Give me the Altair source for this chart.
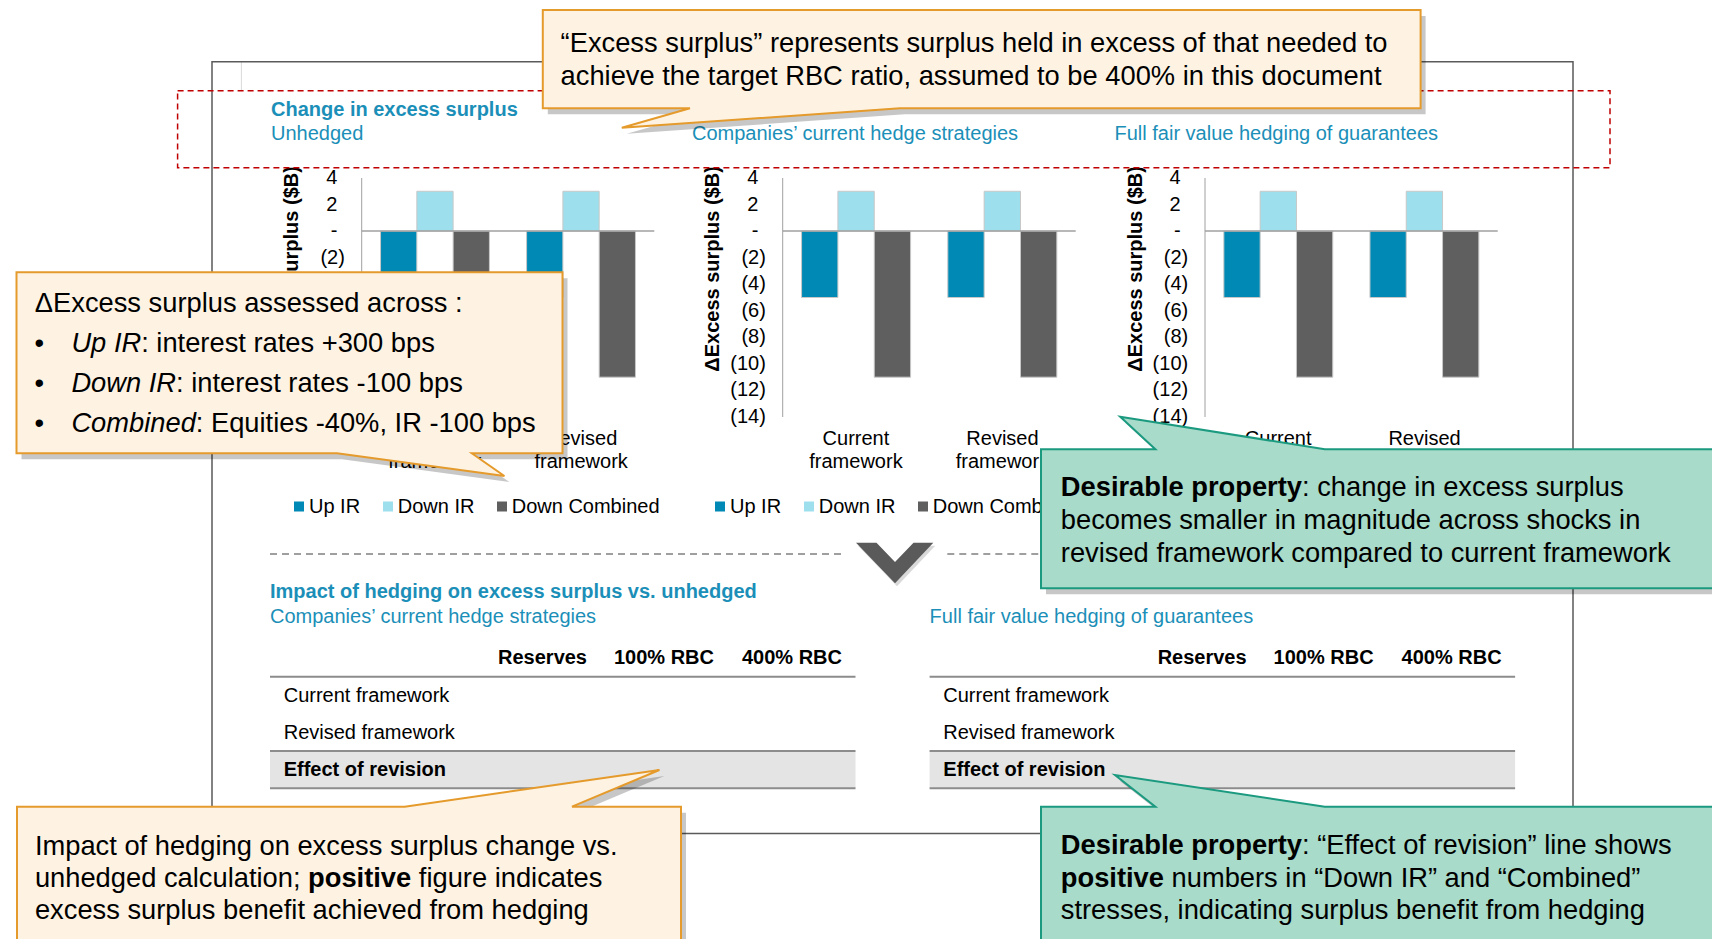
import altair as alt
import pandas as pd

OFF = 8
W, H = 1704, 931
FONT = "Liberation Sans"
TEAL = "#1b8fb8"

# ---------------- data ----------------
frameworks = ["Current framework", "Revised framework"]
fw_line1 = ["Current", "Revised"]
fw_line2 = ["framework", "framework"]
series = ["Up IR", "Down IR", "Down Combined"]
series_colors = ["#0089b5", "#9ddfec", "#5f5f5f"]

panel_names = ["Unhedged", "Companies’ current hedge strategies", "Full fair value hedging of guarantees"]
# change in excess surplus ($B): Up IR, Down IR, Down Combined
unhedged_current = [-5.0, 3.0, -11.0]
unhedged_revised = [-5.0, 3.0, -11.0]
company_current = [-5.0, 3.0, -11.0]
company_revised = [-5.0, 3.0, -11.0]
fullfv_current = [-5.0, 3.0, -11.0]
fullfv_revised = [-5.0, 3.0, -11.0]

tick_values = [4, 2, 0, -2, -4, -6, -8, -10, -12, -14]
tick_labels = ["4", "2", "-", "(2)", "(4)", "(6)", "(8)", "(10)", "(12)", "(14)"]
y_domain = [-14, 4]
y_title = "ΔExcess surplus ($B)"

table_columns = ["Reserves", "100% RBC", "400% RBC"]
table_rows = ["Current framework", "Revised framework", "Effect of revision"]
table_titles = ["Companies’ current hedge strategies", "Full fair value hedging of guarantees"]

# ---------------- helpers ----------------
_R = {" ": 278, ":": 278, ";": 278, ",": 278, ".": 278, "“": 333, "”": 333, "(": 333, ")": 333,
      "+": 584, "-": 333, "%": 889, "$": 556}
_B = {" ": 278, ":": 333, ";": 333, ",": 278, ".": 278, "(": 333, ")": 333, "%": 889, "$": 556}
for c in "0123456789":
    _R[c] = 556
    _B[c] = 556
for tok in ("A667 B667 C722 D722 E667 F611 G778 H722 I278 J500 K667 L556 M833 N722 O778 P667 Q778 R722 "
            "S667 T611 U722 V667 W944 X667 Y667 Z611 a556 b556 c500 d556 e556 f278 g556 h556 i222 j222 "
            "k500 l222 m833 n556 o556 p556 q556 r333 s500 t278 u556 v500 w722 x500 y500 z500").split():
    _R[tok[0]] = int(tok[1:])
for tok in ("A722 B722 C722 D722 E667 F611 G778 H722 I278 J556 K722 L611 M833 N722 O778 P667 Q778 R722 "
            "S667 T611 U722 V667 W944 X667 Y667 Z611 a556 b611 c556 d611 e556 f333 g611 h611 i278 j278 "
            "k556 l278 m889 n611 o611 p611 q611 r389 s556 t333 u611 v556 w778 x556 y556 z500").split():
    _B[tok[0]] = int(tok[1:])


def tw(s, bold=False, size=27.3):
    t = _B if bold else _R
    return sum(t.get(c, 556) for c in s) * size / 1000.0


def P(v):
    return v - OFF


base = pd.DataFrame({"k": [0]})
layers = []


def text(x, y, s, size=20, weight="normal", style="normal", color="#000000", align="left",
         baseline="middle", angle=0):
    # leading blanks are collapsed by SVG, so turn them into an x shift
    stripped = s.lstrip(" ")
    if align == "left" and len(stripped) < len(s):
        x += (len(s) - len(stripped)) * 278 * size / 1000.0
        s = stripped
    m = alt.Chart(base).mark_text(text=s, font=FONT, fontSize=size, fontWeight=weight, fontStyle=style,
                                  color=color, align=align, baseline=baseline, angle=angle)
    layers.append(m.encode(x=alt.value(P(x)), y=alt.value(P(y))))


def rect(x0, y0, x1, y1, fill="white", fill_opacity=1, stroke="white", sw=0, dash=None):
    kw = dict(fill=fill, fillOpacity=fill_opacity, stroke=stroke, strokeWidth=sw)
    if dash:
        kw["strokeDash"] = dash
    layers.append(alt.Chart(base).mark_rect(**kw).encode(
        x=alt.value(P(x0)), x2=alt.value(P(x1)), y=alt.value(P(y0)), y2=alt.value(P(y1))))


def rule(x0, y0, x1, y1, color="#808080", sw=1, dash=None):
    kw = dict(color=color, strokeWidth=sw)
    if dash:
        kw["strokeDash"] = dash
    layers.append(alt.Chart(base).mark_rule(**kw).encode(
        x=alt.value(P(x0)), x2=alt.value(P(x1)), y=alt.value(P(y0)), y2=alt.value(P(y1))))


def shape(points, fill, stroke=None, sw=0, opacity=1, dx=0, dy=0):
    d = "M" + " L".join(f"{P(x) + dx:.1f},{P(y) + dy:.1f}" for x, y in points) + " Z"
    kw = dict(shape=d, size=4, filled=True, fill=fill, opacity=opacity)
    if stroke:
        kw.update(stroke=stroke, strokeWidth=sw)
    else:
        kw.update(strokeOpacity=0)
    layers.append(alt.Chart(base).mark_point(**kw).encode(x=alt.value(0), y=alt.value(0)))


color_scale = alt.Scale(domain=series, range=series_colors)

axis_x = [361.7, 782.7, 1205.0]
plot_right = [654.3, 1075.7, 1497.7]
title_x = [271, 692, 1114.5]
Y_TOP, Y_BOT = 178.0, 417.0

# ---------------- background / frame ----------------
rule(241.4, 62, 241.4, 90, color="#d9d9d9", sw=1)
for ax in axis_x:
    text(ax - 69.5, 371.7, y_title, size=20, weight="bold", angle=270)
rect(177.6, 90.7, 1610, 167.7, fill="white")
rect(212, 61.7, 1573, 833.5, fill="white", fill_opacity=0, stroke="#5a5a5a", sw=1.5)
rect(177.6, 90.7, 1610, 167.7, fill="white", fill_opacity=0, stroke="#c00000", sw=1.5, dash=[6, 4])

text(271, 110, "Change in excess surplus", size=20, weight="bold", color=TEAL)
for i in range(3):
    text(title_x[i], 134, panel_names[i], size=20, color=TEAL)

# ---------------- bar panels ----------------
panels = [(unhedged_current, unhedged_revised), (company_current, company_revised),
          (fullfv_current, fullfv_revised)]
for i, (cur, rev) in enumerate(panels):
    ax, pr = axis_x[i], plot_right[i]
    xs = alt.Scale(domain=frameworks, range=[P(ax), P(pr)], paddingInner=0.2545, paddingOuter=0.129)
    ys = alt.Scale(domain=y_domain, range=[P(Y_BOT), P(Y_TOP)], nice=False, zero=False)
    df = pd.DataFrame({"framework": [frameworks[0]] * 3 + [frameworks[1]] * 3,
                       "series": series * 2, "value": cur + rev})
    layers.append(alt.Chart(df).mark_bar(stroke="#c8c8c8", strokeWidth=1).encode(
        x=alt.X("framework:N", scale=xs, axis=None),
        xOffset=alt.XOffset("series:N", scale=alt.Scale(domain=series, paddingInner=0, paddingOuter=0)),
        y=alt.Y("value:Q", scale=ys, axis=None, stack=None),
        y2=alt.datum(0),
        color=alt.Color("series:N", scale=color_scale, legend=None),
    ))
    # zero line and axis line
    layers.append(alt.Chart(base).mark_rule(color="#a0a0a0", strokeWidth=1.5).encode(
        x=alt.value(P(ax)), x2=alt.value(P(pr)), y=alt.YDatum(0, scale=ys, axis=None)))
    rule(ax, Y_TOP, ax, Y_BOT, color="#a0a0a0", sw=1)
    # tick labels
    tk = pd.DataFrame({"v": tick_values, "lab": tick_labels})
    layers.append(alt.Chart(tk[tk.v >= 0]).mark_text(align="right", baseline="middle", font=FONT,
                                                     fontSize=20, color="#000000").encode(
        x=alt.value(P(ax - 24.3)), y=alt.Y("v:Q", scale=ys, axis=None), text="lab:N"))
    layers.append(alt.Chart(tk[tk.v < 0]).mark_text(align="right", baseline="middle", font=FONT,
                                                    fontSize=20, color="#000000").encode(
        x=alt.value(P(ax - 16.8)), y=alt.Y("v:Q", scale=ys, axis=None), text="lab:N"))
    # category labels
    lab = pd.DataFrame({"framework": frameworks, "l1": fw_line1, "l2": fw_line2})
    layers.append(alt.Chart(lab).mark_text(align="center", baseline="middle", font=FONT, fontSize=20,
                                           color="#000000").encode(
        x=alt.X("framework:N", scale=xs, axis=None), y=alt.value(P(439.3)), text="l1:N"))
    layers.append(alt.Chart(lab).mark_text(align="center", baseline="middle", font=FONT, fontSize=20,
                                           color="#000000").encode(
        x=alt.X("framework:N", scale=xs, axis=None), y=alt.value(P(461.7)), text="l2:N"))
    # legend
    leg = pd.DataFrame({"series": series,
                        "sx": [P(ax - 62.7), P(ax + 26.3), P(ax + 140.3)],
                        "tx": [P(ax - 52.7), P(ax + 36.0), P(ax + 150.0)]})
    layers.append(alt.Chart(leg).mark_square(size=100, opacity=1).encode(
        x=alt.X("sx:Q", scale=None, axis=None), y=alt.value(P(506.5)),
        color=alt.Color("series:N", scale=color_scale, legend=None)))
    layers.append(alt.Chart(leg).mark_text(align="left", baseline="middle", font=FONT, fontSize=20,
                                           color="#000000").encode(
        x=alt.X("tx:Q", scale=None, axis=None), y=alt.value(P(506.5)), text="series:N"))

# ---------------- separator ----------------
rule(270, 554, 841, 554, color="#808080", sw=1.5, dash=[7, 5])
rule(947.3, 554, 1516, 554, color="#808080", sw=1.5, dash=[7, 5])
chev = [(856, 542.7), (876.5, 542.7), (895, 562), (913.5, 542.7), (933.3, 542.7), (895, 583.3)]
shape(chev, "#000000", opacity=0.15, dx=2, dy=3)
shape(chev, "#5a5a5a")

# ---------------- tables ----------------
text(270, 591.7, "Impact of hedging on excess surplus vs. unhedged", size=20, weight="bold", color=TEAL)
col_right = [587, 714, 842]
for t, dx in enumerate([0, 659.6]):
    text(270 + dx, 616.7, table_titles[t], size=20, color=TEAL)
    for c, name in enumerate(table_columns):
        text(col_right[c] + dx, 658.3, name, size=20, weight="bold", align="right")
    rule(270 + dx, 676.7, 855.5 + dx, 676.7, color="#8c8c8c", sw=2)
    rect(270 + dx, 751, 855.5 + dx, 788.3, fill="#e4e4e4")
    rule(270 + dx, 751, 855.5 + dx, 751, color="#8c8c8c", sw=2)
    rule(270 + dx, 788.3, 855.5 + dx, 788.3, color="#8c8c8c", sw=2)
    text(283.7 + dx, 696, table_rows[0], size=20)
    text(283.7 + dx, 733.3, table_rows[1], size=20)
    text(283.7 + dx, 770, table_rows[2], size=20, weight="bold")

# ---------------- callouts ----------------
OR_FILL, OR_STROKE = "#fef3e3", "#e59a2c"
GR_FILL, GR_STROKE = "#a8dbc9", "#1b9a80"
FS = 27.3


def callout(points, fill, stroke):
    shape(points, "#000000", opacity=0.22, dx=5, dy=6)
    shape(points, fill, stroke=stroke, sw=2)


# top
callout([(542.8, 10), (1420.6, 10), (1420.6, 108.3), (900, 108.3), (621.8, 127.7), (690, 108.3),
         (542.8, 108.3)], OR_FILL, OR_STROKE)
text(560.6, 43.5, "“Excess surplus” represents surplus held in excess of that needed to", size=FS)
text(560.6, 76.7, "achieve the target RBC ratio, assumed to be 400% in this document", size=FS)

# left
callout([(16.5, 272.3), (562.5, 272.3), (562.5, 453.3), (471.8, 453.3), (504.4, 476), (337, 453.3),
         (16.5, 453.3)], OR_FILL, OR_STROKE)
text(34.8, 304, "ΔExcess surplus assessed across :", size=FS)
bullets = [("Up IR", ": interest rates +300 bps"), ("Down IR", ": interest rates -100 bps"),
           ("Combined", ": Equities -40%, IR -100 bps")]
for k, (it, rest) in enumerate(bullets):
    yy = [343.5, 384, 424.3][k]
    text(39.3, yy, "•", size=FS, align="center")
    text(71.4, yy, it, size=FS, style="italic")
    text(71.4 + tw(it), yy, rest, size=FS)

# green 1
callout([(1041, 449.3), (1155.4, 449.3), (1120.2, 416.7), (1324.8, 449.3), (1730, 449.3), (1730, 588.3),
         (1041, 588.3)], GR_FILL, GR_STROKE)
text(1060.8, 488, "Desirable property", size=FS, weight="bold")
text(1060.8 + tw("Desirable property", bold=True), 488, ": change in excess surplus", size=FS)
text(1060.8, 521, "becomes smaller in magnitude across shocks in", size=FS)
text(1060.8, 553.5, "revised framework compared to current framework", size=FS)

# green 2
callout([(1041, 806.7), (1155.4, 806.7), (1115, 775), (1324.8, 806.7), (1730, 806.7), (1730, 960),
         (1041, 960)], GR_FILL, GR_STROKE)
text(1060.8, 846, "Desirable property", size=FS, weight="bold")
text(1060.8 + tw("Desirable property", bold=True), 846, ": “Effect of revision” line shows", size=FS)
text(1060.8, 879, "positive", size=FS, weight="bold")
text(1060.8 + tw("positive", bold=True), 879, " numbers in “Down IR” and “Combined”", size=FS)
text(1060.8, 911, "stresses, indicating surplus benefit from hedging", size=FS)

# orange bottom
callout([(17, 806.7), (404.7, 806.7), (659.4, 770), (572, 806.7), (681, 806.7), (681, 960), (17, 960)],
        OR_FILL, OR_STROKE)
text(34.9, 847, "Impact of hedging on excess surplus change vs.", size=FS)
seg = "unhedged calculation; "
text(34.9, 879, seg, size=FS)
text(34.9 + tw(seg), 879, "positive", size=FS, weight="bold")
text(34.9 + tw(seg) + tw("positive", bold=True), 879, " figure indicates", size=FS)
text(34.9, 911, "excess surplus benefit achieved from hedging", size=FS)

chart = alt.layer(*layers).resolve_scale(
    x="independent", y="independent", xOffset="independent"
).properties(
    width=W, height=H, padding=0, autosize=alt.AutoSizeParams(type="none"), background="white"
).configure_view(stroke=None)

chart.save("out.html", embed_options={"renderer": "svg", "actions": False})
